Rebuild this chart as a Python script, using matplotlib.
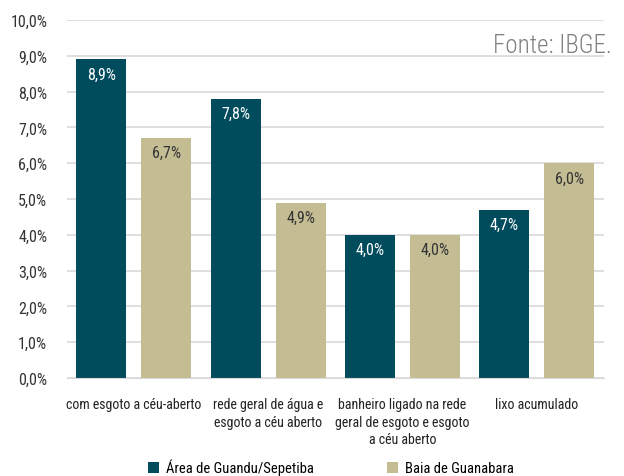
import matplotlib.pyplot as plt
import numpy as np

categories = ['com esgoto a céu-aberto', 'rede geral de água e\nesgoto a céu aberto',
              'banheiro ligado na rede\ngeral de esgoto e esgoto\na céu aberto', 'lixo acumulado']
guandu = [8.9, 7.8, 4.0, 4.7]
guanabara = [6.7, 4.9, 4.0, 6.0]
series_names = ['Área de Guandu/Sepetiba', 'Baia de Guanabara']

plt.rcParams['font.family'] = ['Roboto Condensed', 'Liberation Sans Narrow', 'DejaVu Sans']
plt.rcParams['font.stretch'] = 'condensed'

fig = plt.figure(figsize=(6.24, 4.77), dpi=100)
ax = fig.add_axes([0.107, 0.2055, 0.861, 0.7505])

x = np.arange(len(categories))
w = 0.373
off = 0.242
b1 = ax.bar(x - off, guandu, w, color='#004b5c')
b2 = ax.bar(x + off, guanabara, w, color='#c4bd94')

for r, v in zip(b1, guandu):
    ax.text(r.get_x() + r.get_width() / 2, v - 0.2, f'{v:.1f}%'.replace('.', ','),
            ha='center', va='top', color='white', fontsize=11.5)
for r, v in zip(b2, guanabara):
    ax.text(r.get_x() + r.get_width() / 2, v - 0.2, f'{v:.1f}%'.replace('.', ','),
            ha='center', va='top', color='#333333', fontsize=11.5)

ax.set_xlim(-0.5, 3.5)
ax.set_ylim(0, 10)
ticks = np.arange(0, 10.1, 1)
ax.set_yticks(ticks)
ax.set_yticklabels([f'{t:.1f}%'.replace('.', ',') for t in ticks], fontsize=11.5, color='#333333')
ax.set_xticks(x)
ax.set_xticklabels(categories, fontsize=10, color='#222222', va='top', linespacing=1.3)
ax.tick_params(length=0)
ax.tick_params(axis='x', pad=14)
ax.tick_params(axis='y', pad=14)
ax.grid(axis='y', color='#d9d9d9', lw=1.2)
ax.set_axisbelow(True)
for s in ['top', 'right', 'left']:
    ax.spines[s].set_visible(False)
ax.spines['bottom'].set_color('#d9d9d9')

ax.text(1.015, 0.93, 'Fonte: IBGE.', transform=ax.transAxes, ha='right', va='center',
        fontsize=18, color='#808080', fontweight='light', fontstretch='normal')

fig.legend([b1, b2], series_names, loc='lower center', bbox_to_anchor=(0.53, -0.026), ncol=2,
           frameon=False, fontsize=10.5, handlelength=0.75, handleheight=0.75,
           handletextpad=0.5, columnspacing=5.0)

fig.savefig('out.png', dpi=100)
